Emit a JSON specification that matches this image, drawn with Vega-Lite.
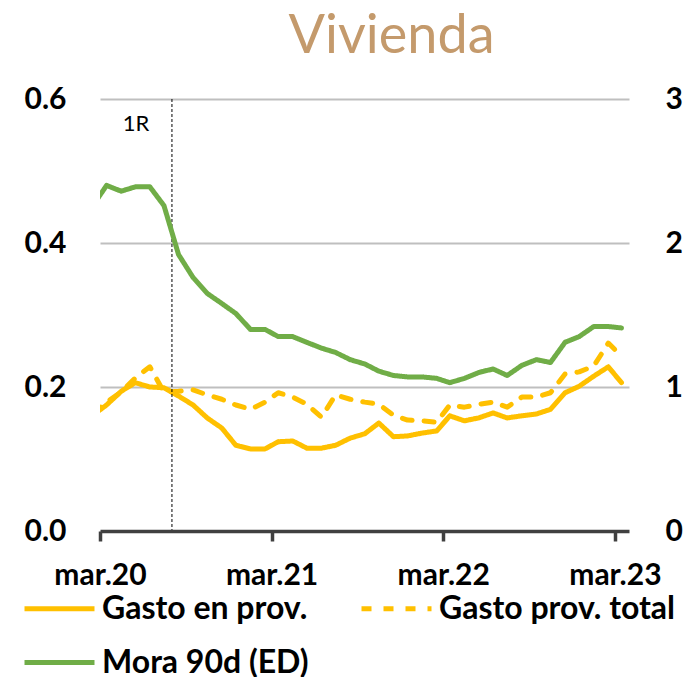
{
  "$schema": "https://vega.github.io/schema/vega-lite/v6.json",
  "width": 529,
  "height": 432,
  "autosize": {"type": "none"},
  "padding": {"left": 100, "top": 99, "right": 54, "bottom": 146},
  "background": "white",
  "config": {
    "view": {"stroke": null},
    "font": "Lato",
    "axis": {"labelFont": "Lato", "labelFontWeight": "bold", "labelFontSize": 30, "labelColor": "black", "title": null}
  },
  "title": {
    "text": "Vivienda",
    "font": "Lato",
    "fontSize": 54,
    "fontWeight": "normal",
    "color": "#C49A6C",
    "anchor": "middle",
    "frame": "group",
    "dx": 27,
    "offset": 20
  },
  "datasets": {
    "series": [
      {"date": "2020-02-15", "a": 0.161, "b": 0.163, "c": 2.26},
      {"date": "2020-03-15", "a": 0.175, "b": 0.179, "c": 2.40},
      {"date": "2020-04-15", "a": 0.194, "b": 0.193, "c": 2.36},
      {"date": "2020-05-15", "a": 0.206, "b": 0.2125, "c": 2.39},
      {"date": "2020-06-15", "a": 0.200, "b": 0.228, "c": 2.39},
      {"date": "2020-07-15", "a": 0.199, "b": 0.193, "c": 2.26},
      {"date": "2020-08-15", "a": 0.1875, "b": 0.194, "c": 1.92},
      {"date": "2020-09-15", "a": 0.175, "b": 0.196, "c": 1.76},
      {"date": "2020-10-15", "a": 0.157, "b": 0.189, "c": 1.65},
      {"date": "2020-11-15", "a": 0.143, "b": 0.183, "c": 1.58},
      {"date": "2020-12-15", "a": 0.119, "b": 0.175, "c": 1.51},
      {"date": "2021-01-15", "a": 0.114, "b": 0.169, "c": 1.40},
      {"date": "2021-02-15", "a": 0.114, "b": 0.179, "c": 1.40},
      {"date": "2021-03-15", "a": 0.124, "b": 0.192, "c": 1.35},
      {"date": "2021-04-15", "a": 0.125, "b": 0.186, "c": 1.35},
      {"date": "2021-05-15", "a": 0.115, "b": 0.176, "c": 1.31},
      {"date": "2021-06-15", "a": 0.115, "b": 0.158, "c": 1.27},
      {"date": "2021-07-15", "a": 0.119, "b": 0.189, "c": 1.24},
      {"date": "2021-08-15", "a": 0.129, "b": 0.183, "c": 1.19},
      {"date": "2021-09-15", "a": 0.135, "b": 0.179, "c": 1.16},
      {"date": "2021-10-15", "a": 0.150, "b": 0.176, "c": 1.11},
      {"date": "2021-11-15", "a": 0.131, "b": 0.161, "c": 1.08},
      {"date": "2021-12-15", "a": 0.132, "b": 0.154, "c": 1.07},
      {"date": "2022-01-15", "a": 0.136, "b": 0.153, "c": 1.07},
      {"date": "2022-02-15", "a": 0.139, "b": 0.151, "c": 1.06},
      {"date": "2022-03-15", "a": 0.160, "b": 0.175, "c": 1.03},
      {"date": "2022-04-15", "a": 0.153, "b": 0.172, "c": 1.06},
      {"date": "2022-05-15", "a": 0.157, "b": 0.176, "c": 1.10},
      {"date": "2022-06-15", "a": 0.164, "b": 0.179, "c": 1.125},
      {"date": "2022-07-15", "a": 0.157, "b": 0.172, "c": 1.08},
      {"date": "2022-08-15", "a": 0.160, "b": 0.186, "c": 1.15},
      {"date": "2022-09-15", "a": 0.1625, "b": 0.186, "c": 1.19},
      {"date": "2022-10-15", "a": 0.169, "b": 0.192, "c": 1.17},
      {"date": "2022-11-15", "a": 0.192, "b": 0.218, "c": 1.31},
      {"date": "2022-12-15", "a": 0.201, "b": 0.221, "c": 1.35},
      {"date": "2023-01-15", "a": 0.215, "b": 0.229, "c": 1.42},
      {"date": "2023-02-15", "a": 0.228, "b": 0.261, "c": 1.42},
      {"date": "2023-03-15", "a": 0.206, "b": 0.243, "c": 1.41}
    ],
    "events": [
      {"date": "2020-08-01", "label": "1R", "pos": 0.565}
    ]
  },
  "encoding": {
    "x": {
      "field": "date",
      "type": "temporal",
      "scale": {"type": "utc", "domain": ["2020-03-01", "2023-03-31"]},
      "axis": {
        "values": ["2020-03-01", "2021-03-01", "2022-03-01", "2023-03-01"],
        "labelExpr": "'mar.' + utcFormat(datum.value, '%y')",
        "domainColor": "#404040",
        "domainWidth": 3.5,
        "tickColor": "#404040",
        "tickWidth": 3.5,
        "tickSize": 10,
        "labelPadding": 19,
        "labelOverlap": false,
        "labelFlush": false,
        "grid": false,
        "zindex": 1
      }
    }
  },
  "layer": [
    {
      "layer": [
        {
          "data": {"name": "series"},
          "transform": [
            {"fold": ["a", "b"], "as": ["series", "value"]}
          ],
          "mark": {"type": "line", "clip": true, "strokeWidth": 5, "strokeCap": "round", "strokeJoin": "round"},
          "encoding": {
            "y": {
              "field": "value",
              "type": "quantitative",
              "scale": {"domain": [0, 0.6]},
              "axis": {
                "orient": "left",
                "values": [0, 0.2, 0.4, 0.6],
                "format": ".1f",
                "domain": false,
                "ticks": false,
                "labelPadding": 34,
                "grid": true,
                "gridColor": "#BFBFBF",
                "gridWidth": 2,
                "gridOpacity": {"condition": {"test": "datum.value === 0", "value": 0}, "value": 1}
              }
            },
            "color": {
              "field": "series",
              "type": "nominal",
              "scale": {"domain": ["a", "b", "c"], "range": ["#FFC000", "#FFC000", "#70AD47"]},
              "legend": {
                "title": null,
                "orient": "none",
                "direction": "horizontal",
                "legendX": -78,
                "legendY": 472,
                "columns": 2,
                "columnPadding": 42,
                "rowPadding": 0,
                "symbolType": "stroke",
                "symbolSize": 4900,
                "symbolStrokeWidth": 5,
                "labelFont": "Lato",
                "labelFontSize": 32,
                "labelFontWeight": "bold",
                "labelColor": "black",
                "labelOffset": 5,
                "labelLimit": 400,
                "labelExpr": "datum.label == 'a' ? 'Gasto en prov.' : datum.label == 'b' ? 'Gasto prov. total' : 'Mora 90d (ED)'"
              }
            },
            "strokeDash": {
              "field": "series",
              "type": "nominal",
              "scale": {"domain": ["a", "b", "c"], "range": [[1, 0], [10, 12], [1, 0]]}
            }
          }
        },
        {
          "data": {"name": "events"},
          "mark": {"type": "rule", "color": "black", "strokeWidth": 1, "strokeDash": [3, 2]},
          "encoding": {}
        },
        {
          "data": {"name": "events"},
          "mark": {"type": "text", "font": "Lato", "fontSize": 22, "color": "black", "dx": -36, "align": "center", "baseline": "middle"},
          "encoding": {
            "y": {"field": "pos", "type": "quantitative"},
            "text": {"field": "label"}
          }
        }
      ]
    },
    {
      "data": {"name": "series"},
      "transform": [
        {"fold": ["c"], "as": ["series", "value"]}
      ],
      "mark": {"type": "line", "clip": true, "strokeWidth": 5, "strokeCap": "round", "strokeJoin": "round"},
      "encoding": {
        "y": {
          "field": "value",
          "type": "quantitative",
          "scale": {"domain": [0, 3]},
          "axis": {
            "orient": "right",
            "values": [0, 1, 2, 3],
            "format": "d",
            "domain": false,
            "ticks": false,
            "grid": false,
            "labelPadding": 36
          }
        },
        "color": {"field": "series", "type": "nominal", "scale": {"domain": ["a", "b", "c"], "range": ["#FFC000", "#FFC000", "#70AD47"]}},
        "strokeDash": {"field": "series", "type": "nominal", "scale": {"domain": ["a", "b", "c"], "range": [[1, 0], [10, 12], [1, 0]]}}
      }
    }
  ],
  "resolve": {"scale": {"y": "independent"}}
}
